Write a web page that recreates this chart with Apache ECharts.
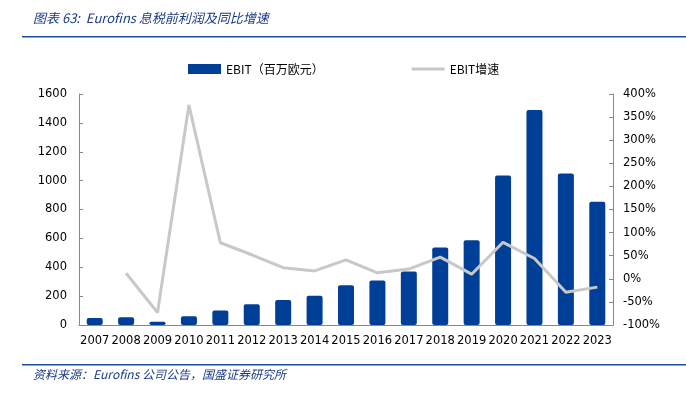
<!DOCTYPE html>
<html>
<head>
<meta charset="utf-8">
<script src="https://cdn.jsdelivr.net/npm/echarts@6/dist/echarts.min.js"></script>
<style>
  html, body { margin: 0; padding: 0; background: #fff; }
  #chart { width: 686px; height: 399px; }
</style>
</head>
<body>
<div id="chart"></div>
<script>
// 年份
const years = ['2007', '2008', '2009', '2010', '2011', '2012', '2013', '2014', '2015',
  '2016', '2017', '2018', '2019', '2020', '2021', '2022', '2023']
// EBIT（百万欧元）
const ebit = [49, 53, 23, 60, 100, 144, 174, 202, 276, 308, 371, 536, 587, 1036, 1489, 1050, 853]
// EBIT增速（%），2007 无数据
const ebitGrowth = [null, 12, -73, 376, 78, 52, 24, 17, 41, 13, 21, 47, 10, 79, 44, -29, -18]

const baseFont = 'DejaVu Sans'
const cjkFont = 'Noto Sans CJK SC'
const blue = '#003f98'
const gray = '#c8c8c8'

const chart = echarts.init(document.getElementById('chart'))

chart.setOption({
  animation: false,
  grid: { left: 79, right: 73, top: 94, bottom: 74 },
  legend: {
    top: 58,
    left: 183,
    itemGap: 88,
    itemWidth: 33,
    itemHeight: 10,
    textStyle: { fontFamily: cjkFont, fontSize: 12, color: '#000' },
    data: [
      { name: 'EBIT（百万欧元）', icon: 'rect' },
      { name: 'EBIT增速', icon: 'path://M0,4 L33,4 L33,7 L0,7 Z', itemStyle: { color: gray } }
    ]
  },
  xAxis: {
    type: 'category',
    data: years,
    axisLine: { lineStyle: { color: '#888' } },
    axisTick: { inside: true, length: 4, lineStyle: { color: '#888' } },
    axisLabel: { color: '#000', fontFamily: baseFont, fontSize: 11.5, margin: 10, interval: 0 }
  },
  yAxis: [
    {
      type: 'value',
      min: 0,
      max: 1600,
      interval: 200,
      splitLine: { show: false },
      axisLine: { show: true, lineStyle: { color: '#888' } },
      axisTick: { show: true, inside: true, length: 4, lineStyle: { color: '#888' } },
      axisLabel: { color: '#000', fontFamily: baseFont, fontSize: 11.5, margin: 12, formatter: (v) => String(v) }
    },
    {
      type: 'value',
      min: -100,
      max: 400,
      interval: 50,
      splitLine: { show: false },
      axisLine: { show: true, lineStyle: { color: '#888' } },
      axisTick: { show: true, inside: true, length: 4, lineStyle: { color: '#888' } },
      axisLabel: { color: '#000', fontFamily: baseFont, fontSize: 11.5, margin: 10, formatter: (v) => v + '%' }
    }
  ],
  series: [
    {
      name: 'EBIT（百万欧元）',
      type: 'bar',
      data: ebit,
      barWidth: 16,
      itemStyle: { color: blue, borderRadius: 2 }
    },
    {
      name: 'EBIT增速',
      type: 'line',
      yAxisIndex: 1,
      data: ebitGrowth,
      symbol: 'none',
      lineStyle: { color: gray, width: 3 },
      itemStyle: { color: gray }
    }
  ],
  graphic: [
    {
      type: 'text',
      left: 33,
      top: 12,
      style: {
        text: '图表 63:  Eurofins 息税前利润及同比增速',
        font: 'italic 13px "Noto Sans CJK SC"',
        fill: '#1a3a8a'
      }
    },
    {
      type: 'rect',
      shape: { x: 22, y: 36, width: 664, height: 1.5 },
      style: { fill: '#1f4e9c' }
    },
    {
      type: 'rect',
      shape: { x: 22, y: 364, width: 664, height: 1.5 },
      style: { fill: '#1f4e9c' }
    },
    {
      type: 'text',
      left: 33,
      top: 368,
      style: {
        text: '资料来源：Eurofins 公司公告，国盛证券研究所',
        font: 'italic 12px "Noto Sans CJK SC"',
        fill: '#1a3a8a'
      }
    }
  ]
})

window.addEventListener('resize', () => chart.resize())
</script>
</body>
</html>
